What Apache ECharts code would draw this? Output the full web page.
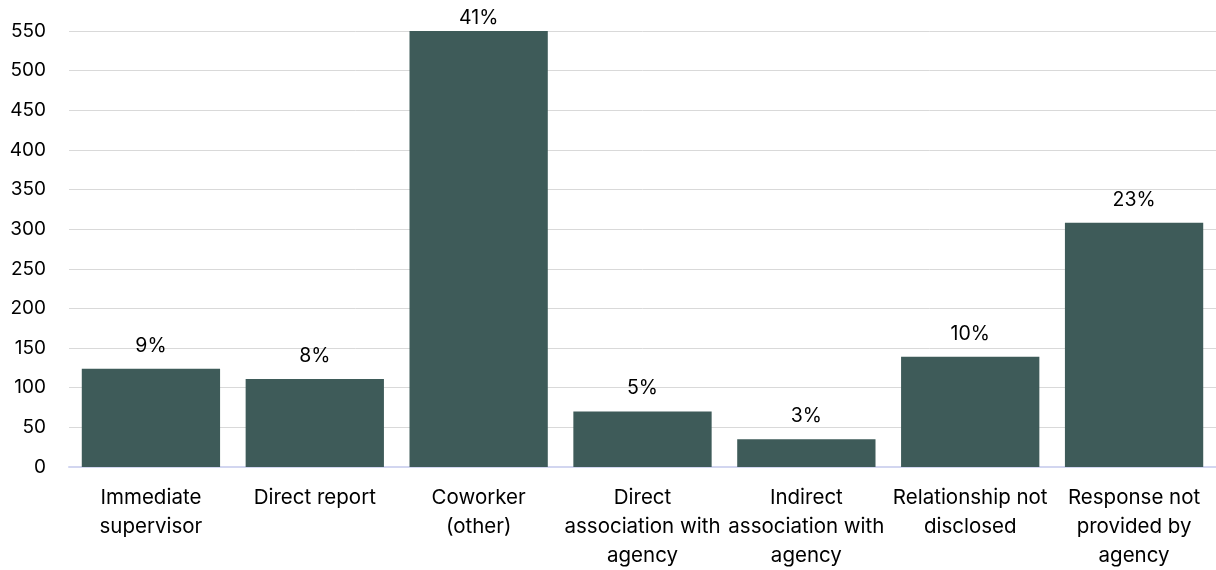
<!DOCTYPE html>
<html>
<head>
<meta charset="utf-8">
<style>
  html, body { margin: 0; padding: 0; background: #ffffff; }
  #chart { width: 1216px; height: 570px; }
</style>
<script src="https://cdn.jsdelivr.net/npm/echarts@6/dist/echarts.min.js"></script>
</head>
<body>
<div id="chart"></div>
<script>
const categories = [
  'Immediate\nsupervisor',
  'Direct report',
  'Coworker\n(other)',
  'Direct\nassociation with\nagency',
  'Indirect\nassociation with\nagency',
  'Relationship not\ndisclosed',
  'Response not\nprovided by\nagency'
];
const counts = [124, 111, 550, 70, 35, 139, 308];
const pctLabels = ['9%', '8%', '41%', '5%', '3%', '10%', '23%'];
const yTicks = { min: 0, max: 550, interval: 50 };

const FONT = 'Inter, "Liberation Sans", sans-serif';
const chart = echarts.init(document.getElementById('chart'), null, { renderer: 'canvas' });

const seriesData = counts.map((v, i) => {
  const item = { value: v };
  if (i === 2) item.label = { distance: 3 };
  return item;
});

chart.setOption({
  animation: false,
  backgroundColor: '#ffffff',
  grid: { left: 69, right: 0, top: 31, bottom: 102, containLabel: false },
  xAxis: {
    type: 'category',
    data: categories,
    axisTick: { show: false },
    axisLine: { show: true, lineStyle: { color: '#d2d6f0', width: 2 } },
    axisLabel: {
      interval: 0,
      margin: 16,
      color: '#000000',
      fontFamily: FONT,
      fontSize: 20.5,
      lineHeight: 29
    }
  },
  yAxis: {
    type: 'value',
    min: yTicks.min,
    max: yTicks.max,
    interval: yTicks.interval,
    axisLine: { show: false },
    axisTick: { show: false },
    splitLine: { show: true, lineStyle: { color: '#d9d9d9', width: 1 } },
    axisLabel: {
      margin: 23,
      color: '#000000',
      fontFamily: FONT,
      fontSize: 19
    }
  },
  series: [{
    type: 'bar',
    data: seriesData,
    barCategoryGap: '15.6%',
    itemStyle: { color: '#3e5b59' },
    label: {
      show: true,
      position: 'top',
      distance: 13,
      color: '#000000',
      fontFamily: FONT,
      fontSize: 19.5,
      formatter: p => pctLabels[p.dataIndex]
    }
  }]
});
</script>
</body>
</html>
